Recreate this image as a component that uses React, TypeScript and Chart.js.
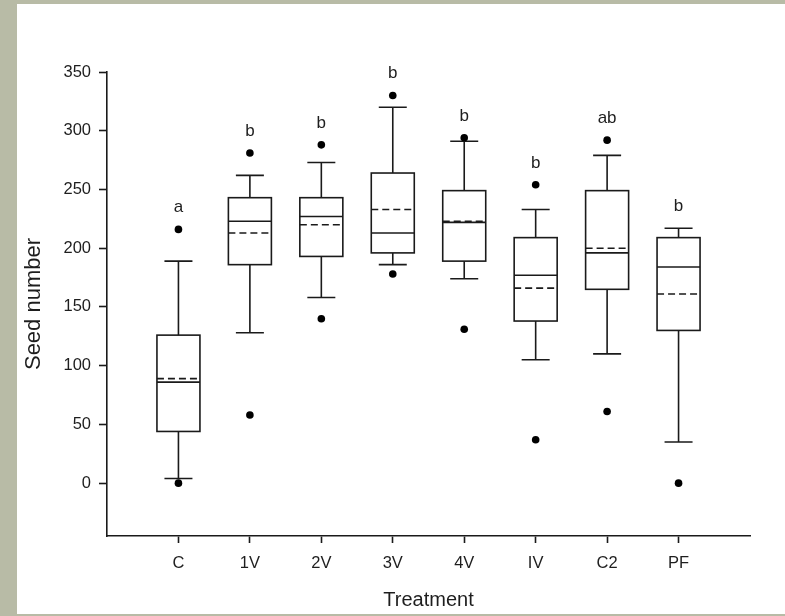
import React, { useEffect, useRef } from "react";
import { Chart, registerables } from "chart.js";

Chart.register(...registerables);

// ---- data ----
const categories = ["C", "1V", "2V", "3V", "4V", "IV", "C2", "PF"];
const q1 = [44, 186, 193, 196, 189, 138, 165, 130];
const q3 = [126, 243, 243, 264, 249, 209, 249, 209];
const medians = [86, 223, 227, 213, 222, 177, 196, 184];
const means = [89, 213, 220, 233, 223, 166, 200, 161];
const whiskerLow = [4, 128, 158, 186, 174, 105, 110, 35];
const whiskerHigh = [189, 262, 273, 320, 291, 233, 279, 217];
const outliers = [
  [216, 0],
  [281, 58],
  [288, 140],
  [330, 178],
  [294, 131],
  [254, 37],
  [292, 61],
  [0],
];
const letters = ["a", "b", "b", "b", "b", "b", "ab", "b"];
const yTicks = [0, 50, 100, 150, 200, 250, 300, 350];

const LINE = "#1a1a1a";
const TEXT = "#1e1e1e";
const FONT = '"Liberation Sans", Arial, Helvetica, sans-serif';

const boxPlugin = {
  id: "boxPlot",
  beforeDatasetsDraw(chart: any) {
    const { ctx, scales } = chart;
    const x = scales.x;
    const y = scales.y;
    const boxW = 43;
    const capW = 28;
    ctx.save();
    ctx.strokeStyle = LINE;
    ctx.lineWidth = 1.6;
    categories.forEach((_, i) => {
      const cx = x.getPixelForValue(i + 1);
      const yq1 = y.getPixelForValue(q1[i]);
      const yq3 = y.getPixelForValue(q3[i]);
      const ylo = y.getPixelForValue(whiskerLow[i]);
      const yhi = y.getPixelForValue(whiskerHigh[i]);
      const ymed = y.getPixelForValue(medians[i]);
      const ymean = y.getPixelForValue(means[i]);
      ctx.setLineDash([]);
      ctx.beginPath();
      ctx.moveTo(cx, yq3);
      ctx.lineTo(cx, yhi);
      ctx.moveTo(cx - capW / 2, yhi);
      ctx.lineTo(cx + capW / 2, yhi);
      ctx.moveTo(cx, yq1);
      ctx.lineTo(cx, ylo);
      ctx.moveTo(cx - capW / 2, ylo);
      ctx.lineTo(cx + capW / 2, ylo);
      ctx.stroke();
      ctx.fillStyle = "#fff";
      ctx.fillRect(cx - boxW / 2, yq3, boxW, yq1 - yq3);
      ctx.strokeRect(cx - boxW / 2, yq3, boxW, yq1 - yq3);
      ctx.beginPath();
      ctx.moveTo(cx - boxW / 2, ymed);
      ctx.lineTo(cx + boxW / 2, ymed);
      ctx.stroke();
      ctx.setLineDash([7, 4]);
      ctx.beginPath();
      ctx.moveTo(cx - boxW / 2, ymean);
      ctx.lineTo(cx + boxW / 2, ymean);
      ctx.stroke();
    });
    ctx.restore();
  },
  afterDraw(chart: any) {
    const { ctx, scales } = chart;
    const x = scales.x;
    const y = scales.y;
    ctx.save();
    ctx.fillStyle = TEXT;
    ctx.font = `17px ${FONT}`;
    ctx.textAlign = "center";
    ctx.textBaseline = "alphabetic";
    categories.forEach((_, i) => {
      const topVal = Math.max(whiskerHigh[i], ...outliers[i]);
      const cx = x.getPixelForValue(i + 1);
      const py = y.getPixelForValue(topVal);
      ctx.fillText(letters[i], cx, py - 17);
    });
    ctx.restore();
  },
};

export default function App() {
  const ref = useRef<HTMLCanvasElement>(null);

  useEffect(() => {
    const canvas = ref.current;
    if (!canvas) return;
    const points: { x: number; y: number }[] = [];
    outliers.forEach((arr, i) => arr.forEach((v) => points.push({ x: i + 1, y: v })));

    const chart = new Chart(canvas, {
      type: "scatter",
      data: {
        datasets: [
          {
            label: "Outliers",
            data: points,
            pointRadius: 3.8,
            pointBackgroundColor: "#000",
            pointBorderWidth: 0,
            pointHoverRadius: 3.8,
          },
        ],
      },
      options: {
        responsive: false,
        animation: false,
        devicePixelRatio: 1,
        events: [],
        layout: { padding: { top: 68, right: 35, bottom: 0, left: 0 } },
        plugins: {
          legend: { display: false },
          tooltip: { enabled: false },
        },
        scales: {
          x: {
            type: "linear",
            min: 0,
            max: 9,
            afterBuildTicks: (scale: any) => {
              scale.ticks = categories.map((_, i) => ({ value: i + 1 }));
            },
            afterFit: (scale: any) => {
              scale.height = 78;
            },
            grid: {
              drawOnChartArea: false,
              drawTicks: true,
              tickLength: 7,
              tickColor: LINE,
              tickWidth: 1.6,
            },
            border: { display: true, color: LINE, width: 1.6 },
            ticks: {
              color: TEXT,
              font: { family: FONT, size: 16.5 },
              padding: 11,
              maxRotation: 0,
              callback: (v: any) => categories[Number(v) - 1] ?? "",
            },
            title: {
              display: true,
              text: "Treatment",
              color: TEXT,
              font: { family: FONT, size: 20 },
              padding: { top: 0, bottom: 2 },
            },
          },
          y: {
            type: "linear",
            min: -45,
            max: 350,
            afterBuildTicks: (scale: any) => {
              scale.ticks = yTicks.map((v) => ({ value: v }));
            },
            afterFit: (scale: any) => {
              scale.width = 90;
            },
            grid: {
              drawOnChartArea: false,
              drawTicks: true,
              tickLength: 8,
              tickColor: LINE,
              tickWidth: 1.6,
            },
            border: { display: true, color: LINE, width: 1.6 },
            ticks: {
              color: TEXT,
              font: { family: FONT, size: 16.5 },
              padding: 8,
            },
            title: {
              display: true,
              text: "Seed number",
              color: TEXT,
              font: { family: FONT, size: 22 },
              padding: { top: 4, bottom: 0 },
            },
          },
        },
      },
      plugins: [boxPlugin],
    });
    return () => chart.destroy();
  }, []);

  return (
    <div
      style={{
        position: "fixed",
        left: 0,
        top: 0,
        width: 785,
        height: 616,
        background: "#b8bba6",
        overflow: "hidden",
      }}
    >
      <div
        style={{
          position: "absolute",
          left: 17,
          top: 4,
          width: 768,
          height: 610,
          background: "#fff",
        }}
      >
        <canvas ref={ref} width={768} height={610} style={{ width: 768, height: 610, display: "block" }} />
      </div>
    </div>
  );
}
